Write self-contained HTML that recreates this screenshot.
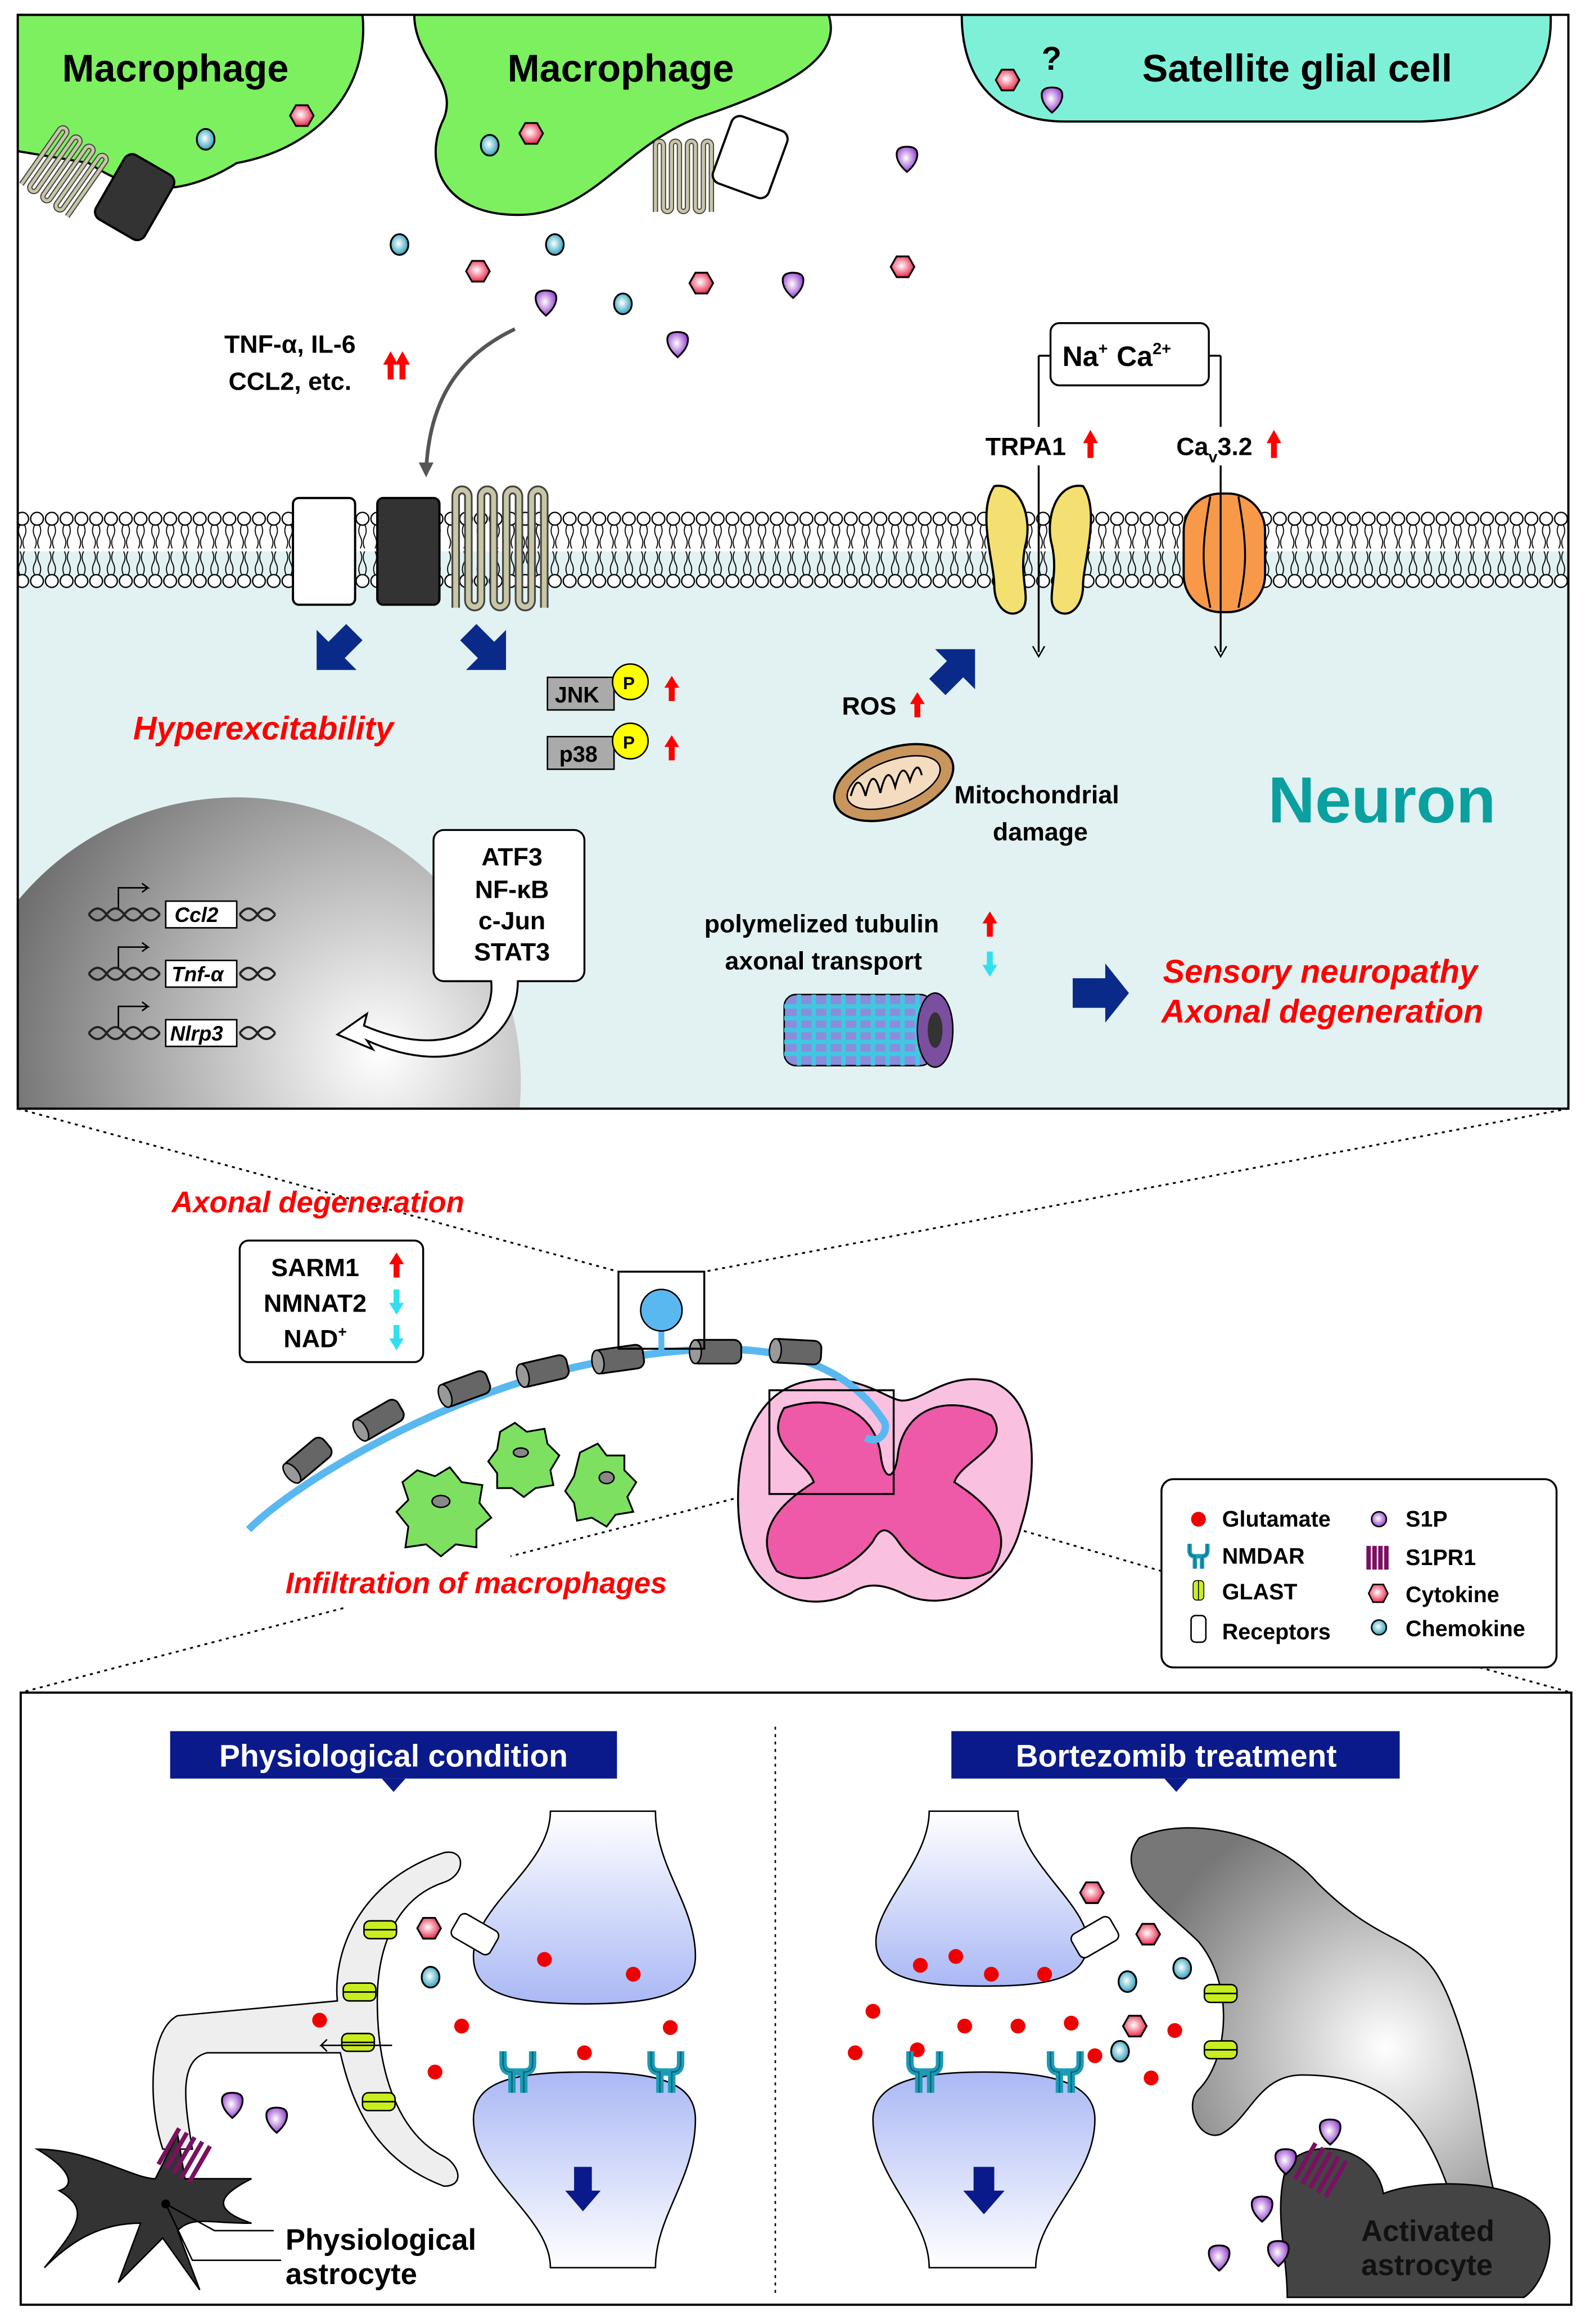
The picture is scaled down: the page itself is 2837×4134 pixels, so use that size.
<!DOCTYPE html>
<html><head><meta charset="utf-8"><style>html,body{margin:0;padding:0;background:#fff}svg{display:block}text{font-family:"Liberation Sans",sans-serif;font-weight:bold}</style></head><body>
<svg width="2837" height="4134" viewBox="0 0 1078 1568" preserveAspectRatio="none" xmlns="http://www.w3.org/2000/svg">
<defs>
<pattern id="mem" x="0" y="345" width="10" height="52" patternUnits="userSpaceOnUse">
<path d="M3.5,9 q-2,4 0,8 t0,8 M6.5,9 q2,4 0,8 t0,8 M3.5,43 q-2,-4 0,-8 t0,-8 M6.5,43 q2,-4 0,-8 t0,-8" fill="none" stroke="#000" stroke-width="0.7"/>
<circle cx="5" cy="5" r="4.3" fill="#fff" stroke="#000" stroke-width="0.9"/>
<circle cx="5" cy="47" r="4.3" fill="#fff" stroke="#000" stroke-width="0.9"/>
</pattern>
<radialGradient id="nuc" cx="0.75" cy="0.45" r="0.8"><stop offset="0" stop-color="#fff"/><stop offset="1" stop-color="#555"/></radialGradient>
<radialGradient id="cy" cx=".45" cy=".45" r=".6"><stop offset="0" stop-color="#fff"/><stop offset="1" stop-color="#1a9bb8"/></radialGradient>
<radialGradient id="rd" cx=".45" cy=".45" r=".6"><stop offset="0" stop-color="#fff"/><stop offset="1" stop-color="#e8173c"/></radialGradient>
<radialGradient id="pu" cx=".45" cy=".45" r=".6"><stop offset="0" stop-color="#fff"/><stop offset="1" stop-color="#8a2fc8"/></radialGradient>
<linearGradient id="lav" x1="0" y1="0" x2="0" y2="1"><stop offset="0" stop-color="#fff"/><stop offset="1" stop-color="#aab8f5"/></linearGradient>
<linearGradient id="lav2" x1="0" y1="1" x2="0" y2="0"><stop offset="0" stop-color="#fff"/><stop offset="1" stop-color="#aab8f5"/></linearGradient>
<radialGradient id="astro" cx=".7" cy=".6" r=".7"><stop offset="0" stop-color="#fff"/><stop offset="1" stop-color="#777"/></radialGradient>
<clipPath id="panel"><rect x="12" y="10" width="1048" height="738"/></clipPath>
<g id="c"><ellipse rx="6" ry="7" fill="url(#cy)" stroke="#000" stroke-width="1.2"/></g>
<g id="r"><polygon points="-4,-7 4,-7 8,0 4,7 -4,7 -8,0" fill="url(#rd)" stroke="#000" stroke-width="1.2"/></g>
<g id="p"><path d="M-7,-3 Q-7,-8 0,-8 Q7,-8 7,-3 Q7,3 0,9 Q-7,3 -7,-3Z" fill="url(#pu)" stroke="#000" stroke-width="1.2"/></g>
<g id="g"><circle r="5" fill="#e00"/></g>
<g id="cyl"><rect x="-17" y="-8" width="34" height="16" rx="5" fill="#666" stroke="#000" stroke-width="1.2"/><ellipse cx="-14" rx="4" ry="8" fill="#999" stroke="#000"/></g>
<g id="glast"><rect x="-11" y="-6" width="22" height="12" rx="4" fill="#c8ee20" stroke="#000"/><line x1="-11" y1="0" x2="11" y2="0" stroke="#000"/></g>
<g id="nmdar"><path d="M-10,-14 v8 q0,6 6,6 v14 M10,-14 v8 q0,6 -6,6 v14 M-4,0 h8" fill="none" stroke="#1a9bb8" stroke-width="5"/><path d="M-10,-14 v8 q0,6 6,6 v14 M10,-14 v8 q0,6 -6,6 v14" fill="none" stroke="#044" stroke-width="1" opacity=".6"/></g>
<g id="serp"><path d="M0,80 V5 a4.5,4.5 0 0 1 9,0 V75 a4.5,4.5 0 0 0 9,0 V5 a4.5,4.5 0 0 1 9,0 V75 a4.5,4.5 0 0 0 9,0 V5 a4.5,4.5 0 0 1 9,0 V75 a4.5,4.5 0 0 0 9,0 V5 a4.5,4.5 0 0 1 9,0 V80" fill="none" stroke="#444" stroke-width="6"/><path d="M0,80 V5 a4.5,4.5 0 0 1 9,0 V75 a4.5,4.5 0 0 0 9,0 V5 a4.5,4.5 0 0 1 9,0 V75 a4.5,4.5 0 0 0 9,0 V5 a4.5,4.5 0 0 1 9,0 V75 a4.5,4.5 0 0 0 9,0 V5 a4.5,4.5 0 0 1 9,0 V80" fill="none" stroke="#c9c6a6" stroke-width="3.5"/></g>
</defs>

<!-- TOP PANEL -->
<g clip-path="url(#panel)">
<rect x="12" y="10" width="1048" height="738" fill="#fff"/>
<rect x="12" y="372" width="1048" height="376" fill="#e2f2f2"/>
<path d="M0,10 H245 C250,60 215,100 160,110 C120,135 90,130 60,110 L0,100Z" fill="#7df060" stroke="#000" stroke-width="1.5"/>
<path d="M280,10 H560 C570,40 530,60 470,80 C420,100 400,145 350,145 C300,145 285,110 300,80 C310,55 280,40 280,10Z" fill="#7df060" stroke="#000" stroke-width="1.5"/>
<path d="M650,10 H1048 C1050,55 1020,80 960,82 H720 C680,82 650,60 650,10Z" fill="#7ff0d8" stroke="#000" stroke-width="1.5"/>
<use href="#serp" transform="translate(42,85) rotate(35) scale(0.6)"/>
<rect x="72" y="108" width="38" height="50" rx="6" transform="rotate(30 91 133)" fill="#333" stroke="#000" stroke-width="1.5"/>
<use href="#serp" transform="translate(443,95) scale(0.6)"/>
<rect x="487" y="82" width="40" height="48" rx="6" transform="rotate(20 507 106)" fill="#fff" stroke="#000" stroke-width="1.5"/>
<text x="42" y="55" font-size="26">Macrophage</text>
<text x="343" y="55" font-size="26">Macrophage</text>
<text x="772" y="55" font-size="26">Satellite glial cell</text>
<text x="704" y="47" font-size="22">?</text>
<use href="#c" x="139" y="94"/><use href="#r" x="204" y="78"/>
<use href="#c" x="331" y="98"/><use href="#r" x="359" y="90"/>
<use href="#r" x="681" y="54"/><use href="#p" x="711" y="67"/>
<use href="#p" x="613" y="107"/>
<use href="#c" x="270" y="165"/><use href="#c" x="375" y="165"/><use href="#r" x="323" y="183"/><use href="#p" x="369" y="204"/><use href="#c" x="421" y="205"/><use href="#r" x="474" y="191"/><use href="#p" x="536" y="192"/><use href="#r" x="610" y="180"/><use href="#p" x="458" y="232"/>
<path d="M348,222 C310,240 290,270 288,318" fill="none" stroke="#555" stroke-width="2.5"/>
<path d="M283,312 L288,322 L293,312Z" fill="#555"/>
<text x="196" y="238" font-size="17" text-anchor="middle">TNF-α, IL-6</text>
<text x="196" y="263" font-size="17" text-anchor="middle">CCL2, etc.</text>
<path d="M262,256 v-10 h-3 l5,-9 l5,9 h-3 v10Z M270,256 v-10 h-3 l5,-9 l5,9 h-3 v10Z" fill="#f00"/>
<rect x="12" y="345" width="1048" height="52" fill="url(#mem)"/>
<rect x="198" y="336" width="42" height="72" rx="4" fill="#fff" stroke="#000" stroke-width="1.5"/>
<rect x="255" y="336" width="42" height="72" rx="4" fill="#333" stroke="#000" stroke-width="1.5"/>
<use href="#serp" transform="translate(308,330) scale(0.95,1)"/>
<path d="M672,328 C690,325 698,350 693,368 C688,390 698,405 690,412 C682,418 672,410 672,395 C672,380 660,345 672,328Z" fill="#f3e070" stroke="#000" stroke-width="1.5"/>
<path d="M732,328 C714,325 706,350 711,368 C716,390 706,405 714,412 C722,418 732,410 732,395 C732,380 744,345 732,328Z" fill="#f3e070" stroke="#000" stroke-width="1.5"/>
<rect x="800" y="333" width="55" height="80" rx="25" fill="#f8994a" stroke="#000" stroke-width="1.5"/>
<path d="M818,335 C812,370 812,380 818,410 M837,335 C843,370 843,380 837,410" stroke="#000" stroke-width="1.3" fill="none"/>
<path d="M702,240 h8 M702,240 v200 M825,240 h-8 M825,240 v200" stroke="#000" stroke-width="1.3" fill="none"/>
<path d="M698,436 l4,7 l4,-7 M821,436 l4,7 l4,-7" stroke="#000" fill="none"/>
<rect x="710" y="218" width="107" height="42" rx="6" fill="#fff" stroke="#000" stroke-width="1.3"/>
<text x="718" y="247" font-size="19" font-weight="normal">Na<tspan font-size="11" dy="-8">+</tspan><tspan dy="8" dx="6">Ca</tspan><tspan font-size="11" dy="-8">2+</tspan></text>
<rect x="662" y="288" width="84" height="26" fill="#fff"/>
<rect x="790" y="288" width="80" height="26" fill="#fff"/>
<text x="666" y="307" font-size="17">TRPA1</text>
<text x="795" y="307" font-size="17">Ca<tspan font-size="11" dy="5">v</tspan><tspan dy="-5">3.2</tspan></text>
<path d="M735,309 v-10 h-3 l5,-9 l5,9 h-3 v10Z M859,309 v-10 h-3 l5,-9 l5,9 h-3 v10Z" fill="#f00"/>
<circle cx="160" cy="730" r="192" fill="url(#nuc)"/>
</g>
<rect x="12" y="10" width="1048" height="738" fill="none" stroke="#000" stroke-width="1.5"/>
<path d="M245,432 l-12,12 l8,8 h-27 v-27 l8,8 l12,-12Z" fill="#0a2a8a"/>
<path d="M311,432 l12,12 l-8,8 h27 v-27 l-8,8 l-12,-12Z" fill="#0a2a8a"/>
<path d="M628,458 l12,-12 l-8,-8 h27 v27 l-8,-8 l-12,12Z" fill="#0a2a8a"/>
<path d="M725,660 h22 v-10 l16,20 l-16,20 v-10 h-22Z" fill="#0a2a8a"/>
<text x="90" y="499" font-size="22" fill="#f00" font-style="italic">Hyperexcitability</text>
<rect x="370" y="457" width="45" height="22" fill="#aaa" stroke="#000"/><text x="375" y="474" font-size="15">JNK</text>
<rect x="370" y="497" width="45" height="22" fill="#aaa" stroke="#000"/><text x="378" y="514" font-size="15">p38</text>
<circle cx="426" cy="460" r="12" fill="#ff0" stroke="#000"/><text x="421" y="465" font-size="12">P</text>
<circle cx="426" cy="500" r="12" fill="#ff0" stroke="#000"/><text x="421" y="505" font-size="12">P</text>
<path d="M452,473 v-9 h-3 l5,-8 l5,8 h-3 v9Z M452,513 v-9 h-3 l5,-8 l5,8 h-3 v9Z M618,484 v-9 h-3 l5,-8 l5,8 h-3 v9Z M667,632 v-9 h-3 l5,-8 l5,8 h-3 v9Z" fill="#f00"/>
<path d="M667,642 v9 h-3 l5,8 l5,-8 h-3 v-9Z" fill="#30e0f0"/>
<text x="569" y="482" font-size="17">ROS</text>
<ellipse cx="604" cy="528" rx="42" ry="23" transform="rotate(-20 604 528)" fill="#c8955c" stroke="#000" stroke-width="1.5"/>
<ellipse cx="604" cy="528" rx="33" ry="15" transform="rotate(-20 604 528)" fill="#f3dcc0" stroke="#000"/>
<path d="M575,537 q5,-18 10,0 q5,-22 10,-2 q5,-22 10,-4 q5,-20 10,-4 q5,-16 8,-4" fill="none" stroke="#000" stroke-width="1.3"/>
<text x="645" y="542" font-size="17">Mitochondrial</text>
<text x="671" y="567" font-size="17">damage</text>
<text x="857" y="555" font-size="44" fill="#0aa0a0">Neuron</text>
<text x="476" y="629" font-size="17">polymelized tubulin</text>
<text x="490" y="654" font-size="17">axonal transport</text>
<rect x="530" y="671" width="100" height="48" rx="8" fill="#8c8cdc" stroke="#000"/>
<path d="M540,671 v48 M550,671 v48 M560,671 v48 M570,671 v48 M580,671 v48 M590,671 v48 M600,671 v48 M610,671 v48 M620,671 v48 M530,679 h100 M530,687 h100 M530,695 h100 M530,703 h100 M530,711 h100" stroke="#40c8e0" stroke-width="3"/>
<ellipse cx="632" cy="695" rx="12" ry="25" fill="#7b4fa0" stroke="#000"/>
<ellipse cx="632" cy="695" rx="5" ry="12" fill="#333"/>
<text x="786" y="663" font-size="22" fill="#f00" font-style="italic">Sensory neuropathy</text>
<text x="785" y="690" font-size="22" fill="#f00" font-style="italic">Axonal degeneration</text>
<g font-size="14" font-style="italic">
<g transform="translate(60,617)"><path d="M0,0 q6,-8 12,0 t12,0 t12,0 t12,0 M0,0 q6,8 12,0 t12,0 t12,0 t12,0 M102,0 q6,-8 12,0 t12,0 M102,0 q6,8 12,0 t12,0" fill="none" stroke="#222" stroke-width="1.5"/><rect x="52" y="-9" width="48" height="18" fill="#fff" stroke="#000"/><text x="58" y="5">Ccl2</text><path d="M20,-4 v-14 h20 l-4,-3 M40,-18 l-4,3" fill="none" stroke="#000"/></g>
<g transform="translate(60,657)"><path d="M0,0 q6,-8 12,0 t12,0 t12,0 t12,0 M0,0 q6,8 12,0 t12,0 t12,0 t12,0 M102,0 q6,-8 12,0 t12,0 M102,0 q6,8 12,0 t12,0" fill="none" stroke="#222" stroke-width="1.5"/><rect x="52" y="-9" width="48" height="18" fill="#fff" stroke="#000"/><text x="56" y="5">Tnf-α</text><path d="M20,-4 v-14 h20 l-4,-3 M40,-18 l-4,3" fill="none" stroke="#000"/></g>
<g transform="translate(60,697)"><path d="M0,0 q6,-8 12,0 t12,0 t12,0 t12,0 M0,0 q6,8 12,0 t12,0 t12,0 t12,0 M102,0 q6,-8 12,0 t12,0 M102,0 q6,8 12,0 t12,0" fill="none" stroke="#222" stroke-width="1.5"/><rect x="52" y="-9" width="48" height="18" fill="#fff" stroke="#000"/><text x="55" y="5">Nlrp3</text><path d="M20,-4 v-14 h20 l-4,-3 M40,-18 l-4,3" fill="none" stroke="#000"/></g>
</g>
<path d="M300,560 h88 a7,7 0 0 1 7,7 v88 a7,7 0 0 1 -7,7 h-38 C350,700 310,730 248,702 l4,6 l-24,-10 l20,-14 l-2,8 C300,715 335,695 332,662 h-32 a7,7 0 0 1 -7,-7 v-88 a7,7 0 0 1 7,-7Z" fill="#fff" stroke="#000" stroke-width="1.3"/>
<g font-size="17" text-anchor="middle"><text x="346" y="584">ATF3</text><text x="346" y="606">NF-κB</text><text x="346" y="627">c-Jun</text><text x="346" y="648">STAT3</text></g>

<g stroke="#000" stroke-dasharray="2,3" stroke-width="1.2" fill="none">
<path d="M12,748 L418,858 M1060,748 L476,858 M596,1005 L785,1060 M520,1005 L345,1050 M232,1085 L14,1142 M1000,1125 L1062,1142"/>
</g>
<text x="116" y="818" font-size="20" fill="#f00" font-style="italic">Axonal degeneration</text>
<rect x="162" y="837" width="124" height="82" rx="6" fill="#fff" stroke="#000" stroke-width="1.3"/>
<g font-size="17" text-anchor="middle"><text x="213" y="861">SARM1</text><text x="213" y="885">NMNAT2</text><text x="213" y="909">NAD<tspan font-size="10" dy="-7">+</tspan></text></g>
<path d="M266,862 v-9 h-3 l5,-8 l5,8 h-3 v9Z" fill="#f00"/>
<path d="M266,870 v9 h-3 l5,8 l5,-8 h-3 v-9Z M266,894 v9 h-3 l5,8 l5,-8 h-3 v-9Z" fill="#30e0f0"/>
<path d="M545,932 C580,925 600,945 610,945 C625,945 640,925 670,932 C705,945 700,1000 690,1030 C680,1070 640,1090 610,1075 C595,1068 585,1068 575,1075 C545,1090 505,1075 500,1030 C495,990 505,940 545,932Z" fill="#f9c0e0" stroke="#000" stroke-width="1.3"/>
<path d="M530,950 C560,940 590,950 595,980 C597,1000 605,1000 607,980 C612,950 640,940 670,955 C685,975 650,985 645,1000 C660,1010 690,1030 670,1060 C650,1072 620,1060 607,1040 C600,1030 595,1030 590,1040 C575,1060 545,1072 525,1060 C505,1030 535,1010 550,1000 C545,985 515,975 530,950Z" fill="#ee5aa8" stroke="#000" stroke-width="1.3"/>
<path d="M168,1032 C200,1000 300,940 400,920 C480,905 560,900 598,960 C600,965 595,975 585,970" fill="none" stroke="#5ab8f0" stroke-width="5"/>
<use href="#cyl" transform="translate(208,985) rotate(-40)"/>
<use href="#cyl" transform="translate(256,958) rotate(-30)"/>
<use href="#cyl" transform="translate(314,937) rotate(-20)"/>
<use href="#cyl" transform="translate(367,925) rotate(-13)"/>
<use href="#cyl" transform="translate(418,917) rotate(-8)"/>
<use href="#cyl" transform="translate(484,912) rotate(0)"/>
<use href="#cyl" transform="translate(538,912) rotate(3)"/>
<rect x="418" y="858" width="58" height="52" fill="none" stroke="#000" stroke-width="1.3"/>
<line x1="447" y1="895" x2="447" y2="912" stroke="#5ab8f0" stroke-width="4"/>
<circle cx="447" cy="884" r="14" fill="#5ab8f0" stroke="#000"/>
<rect x="520" y="938" width="84" height="70" fill="none" stroke="#000" stroke-width="1.3"/>
<g fill="#7de060" stroke="#000" stroke-width="1.2">
<path d="M272,1000 l10,-8 l12,4 l10,-6 l8,10 l14,2 l-2,12 l8,10 l-10,8 l0,12 l-14,-2 l-10,8 l-10,-8 l-14,2 l2,-14 l-8,-10 l8,-8Z"/>
<path d="M338,966 l10,-6 l8,6 l12,-2 l2,10 l8,8 l-6,10 l2,10 l-12,2 l-8,6 l-8,-6 l-10,0 l0,-10 l-6,-8 l6,-8Z"/>
<path d="M392,980 l12,-6 l6,8 l12,0 l0,10 l8,8 l-6,10 l4,10 l-12,2 l-6,8 l-10,-6 l-10,2 l-2,-12 l-6,-8 l6,-10Z"/>
</g>
<ellipse cx="298" cy="1013" rx="6" ry="4" fill="#888" stroke="#000"/><ellipse cx="352" cy="980" rx="5" ry="3" fill="#888" stroke="#000"/><ellipse cx="410" cy="997" rx="5" ry="4" fill="#888" stroke="#000"/>
<text x="193" y="1075" font-size="20" fill="#f00" font-style="italic">Infiltration of macrophages</text>
<rect x="785" y="998" width="267" height="127" rx="8" fill="#fff" stroke="#000" stroke-width="1.3"/>
<g font-size="15">
<use href="#g" x="810" y="1025"/><text x="826" y="1030">Glutamate</text>
<use href="#nmdar" transform="translate(810,1050) scale(0.6)"/><text x="826" y="1055">NMDAR</text>
<use href="#glast" transform="translate(810,1073) scale(0.6) rotate(90)"/><text x="826" y="1079">GLAST</text>
<rect x="805" y="1090" width="10" height="18" rx="3" fill="#fff" stroke="#000"/><text x="826" y="1106">Receptors</text>
<circle cx="932" cy="1025" r="5" fill="url(#pu)" stroke="#000"/><text x="950" y="1030">S1P</text>
<path d="M925,1043 v16 M929,1043 v16 M933,1043 v16 M937,1043 v16" stroke="#7a1060" stroke-width="3"/><text x="950" y="1056">S1PR1</text>
<polygon points="928,1069 935,1069 938,1075 935,1081 928,1081 925,1075" fill="url(#rd)" stroke="#000"/><text x="950" y="1081">Cytokine</text>
<circle cx="932" cy="1098" r="5" fill="url(#cy)" stroke="#000"/><text x="950" y="1104">Chemokine</text>
</g>

<rect x="14" y="1142" width="1048" height="413" fill="#fff" stroke="#000" stroke-width="1.5"/>
<line x1="524" y1="1165" x2="524" y2="1550" stroke="#000" stroke-dasharray="2,3"/>
<rect x="115" y="1168" width="302" height="32" fill="#0a1a8a"/><path d="M258,1200 l8,9 l8,-9Z" fill="#0a1a8a"/>
<text x="266" y="1192" font-size="21" fill="#fff" font-weight="normal" text-anchor="middle">Physiological condition</text>
<rect x="643" y="1168" width="303" height="32" fill="#0a1a8a"/><path d="M787,1200 l8,9 l8,-9Z" fill="#0a1a8a"/>
<text x="795" y="1192" font-size="21" fill="#fff" font-weight="normal" text-anchor="middle">Bortezomib treatment</text>
<path d="M372,1222 H443 C443,1260 470,1285 470,1320 C470,1345 445,1352 395,1352 C345,1352 320,1345 320,1320 C320,1285 372,1260 372,1222Z" fill="url(#lav)" stroke="#000" stroke-width="1"/>
<path d="M372,1530 H443 C443,1495 470,1470 470,1430 C470,1405 445,1398 395,1398 C345,1398 320,1405 320,1430 C320,1470 372,1495 372,1530Z" fill="url(#lav2)" stroke="#000" stroke-width="1"/>
<path d="M388,1462 h12 v16 h6 l-12,14 l-12,-14 h6Z" fill="#0a1a8a"/>
<path d="M300,1250 C240,1270 225,1320 228,1350 L120,1360 C100,1370 100,1420 110,1450 L130,1450 C125,1420 120,1390 140,1385 L230,1385 C240,1430 260,1460 300,1475 C315,1475 310,1460 300,1455 C270,1440 255,1400 255,1350 C255,1310 270,1280 300,1270 C315,1265 315,1247 300,1250Z" fill="#eee" stroke="#000" stroke-width="1"/>
<rect x="306" y="1296" width="30" height="18" rx="4" transform="rotate(30 321 1305)" fill="#fff" stroke="#000"/>
<use href="#glast" x="257" y="1302"/><use href="#glast" x="243" y="1344"/><use href="#glast" x="242" y="1378"/><use href="#glast" x="256" y="1418"/>
<path d="M265,1380 h-48 l4,-4 M217,1380 l4,4" stroke="#000" fill="none"/>
<use href="#g" x="368" y="1322"/><use href="#g" x="428" y="1332"/><use href="#g" x="216" y="1363"/><use href="#g" x="312" y="1367"/><use href="#g" x="453" y="1368"/><use href="#g" x="395" y="1385"/><use href="#g" x="294" y="1398"/>
<use href="#r" x="290" y="1301"/><use href="#c" x="291" y="1334"/>
<use href="#nmdar" x="350" y="1398"/><use href="#nmdar" x="450" y="1398"/>
<use href="#p" x="157" y="1420"/><use href="#p" x="187" y="1430"/>
<path d="M25,1450 C60,1450 90,1470 105,1470 L120,1440 L125,1470 L170,1470 C150,1480 140,1490 170,1500 C140,1500 130,1495 120,1505 L135,1545 L110,1510 L80,1540 L95,1500 C70,1500 50,1510 30,1530 C55,1500 60,1490 40,1478 C50,1475 50,1465 25,1450Z" fill="#333" stroke="#000"/>
<circle cx="112" cy="1487" r="3" fill="#000"/>
<path d="M112,1487 L145,1505 H185 M112,1487 L130,1525 H190" stroke="#000" fill="none"/>
<path d="M112,1440 v28 M118,1440 v28 M124,1440 v28 M130,1440 v28 M136,1440 v28" stroke="#7a1060" stroke-width="3" transform="rotate(30 124 1455)"/>
<text x="193" y="1518" font-size="20">Physiological</text>
<text x="193" y="1541" font-size="20">astrocyte</text>
<path d="M628,1222 H688 C688,1255 735,1285 735,1310 C735,1335 710,1340 665,1340 C620,1340 592,1335 592,1310 C592,1285 628,1255 628,1222Z" fill="url(#lav)" stroke="#000"/>
<path d="M628,1530 H700 C700,1495 740,1470 740,1430 C740,1405 710,1398 665,1398 C620,1398 590,1405 590,1430 C590,1470 628,1495 628,1530Z" fill="url(#lav2)" stroke="#000"/>
<path d="M658,1462 h14 v16 h7 l-14,16 l-14,-16 h7Z" fill="#0a1a8a"/>
<rect x="725" y="1298" width="30" height="18" rx="4" transform="rotate(-30 740 1307)" fill="#fff" stroke="#000"/>
<path d="M770,1240 C800,1225 860,1235 890,1270 C940,1320 960,1300 980,1350 C1000,1400 1000,1440 1010,1480 L980,1480 C960,1420 930,1400 880,1400 C850,1400 845,1430 825,1440 C810,1445 800,1420 810,1410 C830,1390 835,1340 810,1310 C790,1290 750,1265 770,1240Z" fill="url(#astro)" stroke="#000"/>
<path d="M870,1460 C890,1440 930,1450 935,1480 C960,1470 1020,1470 1040,1490 C1055,1505 1045,1540 1030,1550 L870,1550 C870,1520 860,1490 870,1460Z" fill="#444" stroke="#000"/>
<path d="M880,1450 v28 M886,1450 v28 M892,1450 v28 M898,1450 v28 M904,1450 v28" stroke="#7a1060" stroke-width="3" transform="rotate(30 892 1465)"/>
<text x="920" y="1512" font-size="20" fill="#111">Activated</text>
<text x="920" y="1535" font-size="20" fill="#111">astrocyte</text>
<use href="#glast" x="825" y="1345"/><use href="#glast" x="825" y="1383"/>
<use href="#g" x="622" y="1326"/><use href="#g" x="646" y="1320"/><use href="#g" x="670" y="1332"/><use href="#g" x="706" y="1332"/><use href="#g" x="590" y="1357"/><use href="#g" x="578" y="1385"/><use href="#g" x="620" y="1383"/><use href="#g" x="652" y="1367"/><use href="#g" x="688" y="1367"/><use href="#g" x="724" y="1365"/><use href="#g" x="740" y="1387"/><use href="#g" x="778" y="1402"/><use href="#g" x="794" y="1370"/>
<use href="#r" x="738" y="1277"/><use href="#r" x="776" y="1305"/><use href="#r" x="767" y="1367"/>
<use href="#c" x="762" y="1337"/><use href="#c" x="799" y="1328"/><use href="#c" x="757" y="1384"/>
<use href="#nmdar" x="625" y="1398"/><use href="#nmdar" x="720" y="1398"/>
<use href="#p" x="899" y="1438"/><use href="#p" x="869" y="1458"/><use href="#p" x="853" y="1490"/><use href="#p" x="864" y="1520"/><use href="#p" x="824" y="1523"/>
</svg>
</body></html>
